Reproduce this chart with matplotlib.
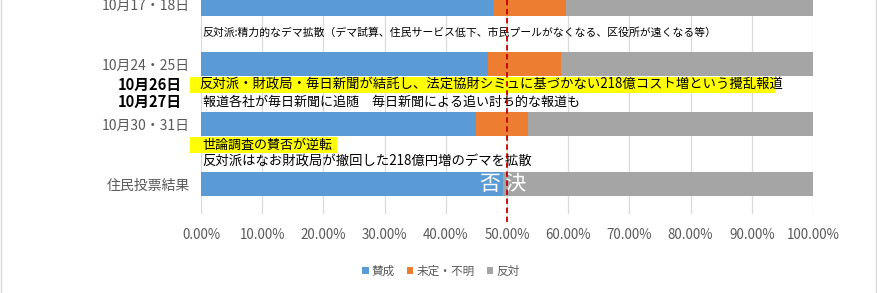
import matplotlib
matplotlib.use("Agg")
import matplotlib.pyplot as plt
from matplotlib.patches import Rectangle
from matplotlib.lines import Line2D
import numpy as np

plt.rcParams['font.family'] = ['Noto Sans CJK JP', 'DejaVu Sans']

# ---- data ----
categories = ['10月17・18日', '10月24・25日', '10月30・31日', '住民投票結果']
yes_vals = [47.9, 46.9, 44.9, 49.4]
undecided_vals = [11.7, 11.9, 8.5, 0.0]
no_vals = [40.4, 41.2, 46.6, 50.6]
series_names = ['賛成', '未定・不明', '反対']
series_colors = ['#5B9BD5', '#ED7D31', '#A5A5A5']
xticks = [0, 10, 20, 30, 40, 50, 60, 70, 80, 90, 100]
threshold = 50

note1 = '反対派:精力的なデマ拡散（デマ試算、住民サービス低下、市民プールがなくなる、区役所が遠くなる等）'
date26 = '10月26日'
note26 = '反対派・財政局・毎日新聞が結託し、法定協財シミュに基づかない218億コスト増という攪乱報道'
date27 = '10月27日'
note27 = '報道各社が毎日新聞に追随　毎日新聞による追い討ち的な報道も'
note_rev = '世論調査の賛否が逆転'
note_last = '反対派はなお財政局が撤回した218億円増のデマを拡散'
result_text = '否 決'

W, H = 878, 293
fig = plt.figure(figsize=(W / 100, H / 100), dpi=100)
fig.patch.set_facecolor('white')

ax = fig.add_axes([201 / W, (H - 214) / H, 612 / W, 214 / H])
ypos = np.arange(len(categories))
bar_h = 0.4

yes = np.array(yes_vals)
und = np.array(undecided_vals)
no = np.array(no_vals)
ax.barh(ypos, yes, height=bar_h, color=series_colors[0], label=series_names[0], zorder=2)
ax.barh(ypos, und, left=yes, height=bar_h, color=series_colors[1], label=series_names[1], zorder=2)
ax.barh(ypos, no, left=yes + und, height=bar_h, color=series_colors[2], label=series_names[2], zorder=2)

ax.set_xlim(0, 100)
ax.set_ylim(3.5, -4 / 60)
ax.set_xticks(xticks)
ax.set_xticklabels([f'{v:.2f}%' for v in xticks])
ax.set_yticks(ypos)
ax.set_yticklabels(categories)
ax.tick_params(axis='both', length=0, labelsize=9.6, labelcolor='#595959')
ax.tick_params(axis='y', labelsize=10)
ax.tick_params(axis='x', pad=10)
ax.tick_params(axis='y', pad=8)
ax.grid(axis='x', color='#D9D9D9', lw=0.9, zorder=0)
ax.set_axisbelow(True)
for s in ax.spines.values():
    s.set_visible(False)

# annotations
px = 1 / 60.0  # data units per pixel (y)
def ydat(p):
    return (p - 4) * px

ax.text(0.3, ydat(33), note1, fontsize=7.8, color='black', va='center', ha='left', zorder=4, clip_on=False)

# yellow boxes
ax.add_patch(Rectangle((-1.8, ydat(77)), 95.6, 16 * px, facecolor='#FFFF00', edgecolor='none', zorder=3, clip_on=False))
ax.add_patch(Rectangle((-1.8, ydat(137)), 24.0, 16 * px, facecolor='#FFFF00', edgecolor='none', zorder=3, clip_on=False))

ax.text(-0.3, ydat(85), note26, fontsize=9.6, color='black', va='center', ha='left', zorder=4, clip_on=False)
ax.text(0.3, ydat(102), note27, fontsize=9.4, color='black', va='center', ha='left', zorder=4, clip_on=False)
ax.text(0.3, ydat(145), note_rev, fontsize=9.4, color='black', va='center', ha='left', zorder=4, clip_on=False)
ax.text(0.3, ydat(162), note_last, fontsize=9.6, color='black', va='center', ha='left', zorder=4, clip_on=False)

ax.text(-3.2, ydat(85), date26, fontsize=10.6, fontweight='bold', color='black', va='center', ha='right', clip_on=False)
ax.text(-3.2, ydat(102), date27, fontsize=10.6, fontweight='bold', color='black', va='center', ha='right', clip_on=False)

ax.text(49.3, 3, result_text, fontsize=15, color='white', va='center', ha='center', zorder=5)

ax.axvline(threshold, ymin=-8 / 214, ymax=1, color='#C00000', ls=(0, (3, 2)), lw=1.3, zorder=6, clip_on=False)

leg = fig.legend(loc='center', bbox_to_anchor=(441 / W, 1 - 271 / H), ncol=3, frameon=False,
                 fontsize=8.4, handlelength=0.55, handleheight=0.55, handletextpad=0.3, columnspacing=1.0)
for t in leg.get_texts():
    t.set_color('#595959')

# chart border (left/right)
fig.add_artist(Line2D([1.5 / W, 1.5 / W], [0, 1], color='#D9D9D9', lw=1))
fig.add_artist(Line2D([876.5 / W, 876.5 / W], [0, 1], color='#D9D9D9', lw=1))

fig.savefig('out.png', dpi=100, facecolor='white')
